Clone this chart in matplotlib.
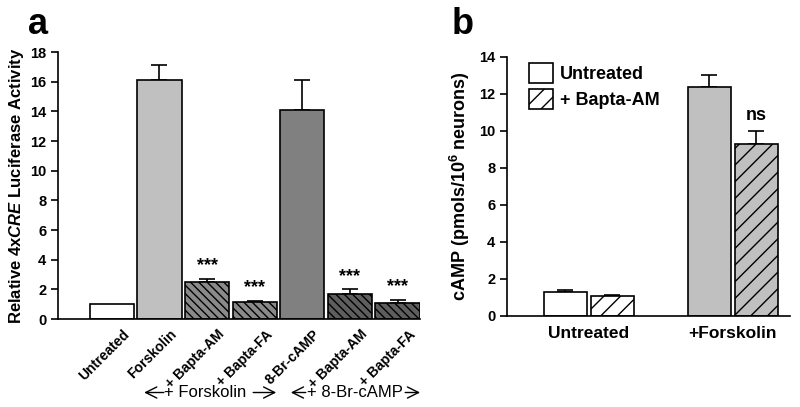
import numpy as np
import matplotlib.pyplot as plt
from matplotlib.patches import Patch

plt.rcParams['font.family'] = ['Liberation Sans', 'DejaVu Sans']
plt.rcParams['font.weight'] = 'bold'
plt.rcParams['axes.labelweight'] = 'bold'
plt.rcParams['hatch.linewidth'] = 1.0
plt.rcParams['mathtext.fontset'] = 'custom'
plt.rcParams['mathtext.it'] = 'Liberation Sans:italic:bold'
plt.rcParams['mathtext.rm'] = 'Liberation Sans:bold'

# panel a
a_labels = ['Untreated', 'Forskolin', '+ Bapta-AM', '+ Bapta-FA', '8-Br-cAMP', '+ Bapta-AM', '+ Bapta-FA']
a_values = [1.0, 16.1, 2.5, 1.15, 14.1, 1.7, 1.1]
a_errors = [0.0, 1.0, 0.2, 0.1, 2.0, 0.3, 0.2]
a_stars = ['', '', '***', '***', '', '***', '***']
a_colors = ['white', '#c0c0c0', '#8a8a8a', '#8a8a8a', '#808080', '#5e5e5e', '#5e5e5e']
a_hatch = [None, None, '\\\\\\\\', '\\\\\\\\', None, '\\\\\\\\', '\\\\\\\\']

# panel b
b_groups = ['Untreated', '+Forskolin']
b_untreated = [1.3, 12.35]
b_untreated_err = [0.1, 0.65]
b_bapta = [1.08, 9.3]
b_bapta_err = [0.05, 0.7]

fig = plt.figure(figsize=(8, 4.07), dpi=100)

ax = fig.add_axes([0.0725, 0.216, 0.4525, 0.656])
x = np.arange(len(a_values))
for i in range(len(x)):
    ax.bar(x[i], a_values[i], width=0.93, color=a_colors[i], edgecolor='black',
           linewidth=1.2, hatch=a_hatch[i], zorder=2)
    if a_errors[i] > 0:
        ax.errorbar(x[i], a_values[i], yerr=[[0], [a_errors[i]]], fmt='none',
                    ecolor='black', elinewidth=1.2, capsize=6, capthick=1.2, zorder=1)
    if a_stars[i]:
        ax.text(x[i], a_values[i] + a_errors[i] + 0.3, a_stars[i], ha='center', va='bottom',
                fontsize=13, fontweight='bold')
ax.set_xlim(-1.13, 6.47)
ax.set_ylim(0, 18)
ax.set_yticks(np.arange(0, 19, 2))
# labels sit a little right of the bar centres, as in the original
ax.set_xticks(x + 0.22)
ax.set_xticklabels(a_labels, rotation=45, ha='right', rotation_mode='anchor', fontsize=10,
                   fontweight='bold')
ax.set_yticklabels([str(v) for v in range(0, 19, 2)], fontsize=10.5, fontweight='bold')
ax.tick_params(axis='x', length=0, pad=6)
ax.tick_params(axis='y', width=1.2, length=5)
for s in ['top', 'right']:
    ax.spines[s].set_visible(False)
ax.spines['left'].set_linewidth(1.2)
ax.spines['bottom'].set_linewidth(1.2)
ax.set_ylabel(r'Relative 4x$\it{CRE}$ Luciferase Activity', fontsize=12, fontweight='bold', labelpad=3)

tr = ax.get_xaxis_transform()
y_grp = -0.275
for x0, x1, xt0, xt1, lab, xc in [(1.15, 0.62, 2.91, 3.51, '+ Forskolin', 1.95),
                                  (4.13, 3.70, 6.10, 6.53, '+ 8-Br-cAMP', 5.1)]:
    ax.annotate('', xy=(x1, y_grp), xytext=(x0, y_grp), xycoords=tr, textcoords=tr,
                arrowprops=dict(arrowstyle='->', lw=1.0, mutation_scale=20), annotation_clip=False)
    ax.annotate('', xy=(xt1, y_grp), xytext=(xt0, y_grp), xycoords=tr, textcoords=tr,
                arrowprops=dict(arrowstyle='->', lw=1.0, mutation_scale=20), annotation_clip=False)
    ax.text(xc, y_grp, lab, transform=tr, ha='center', va='center', fontsize=12,
            fontweight='normal')

fig.text(0.035, 0.94, 'a', fontsize=26, fontweight='bold', va='center')

# panel b
bx = fig.add_axes([0.634, 0.224, 0.354, 0.636])
xg = np.arange(len(b_groups))
off = 0.163
w = 0.30
bx.bar(xg - off, b_untreated, width=w, color=['white', '#c0c0c0'], edgecolor='black', linewidth=1.2, zorder=2)
bx.bar(xg + off, b_bapta, width=w, color=['white', '#c0c0c0'], edgecolor='black', linewidth=1.2,
       hatch='//', zorder=2)
bx.errorbar(xg - off, b_untreated, yerr=[np.zeros(2), b_untreated_err], fmt='none', ecolor='black',
            elinewidth=1.2, capsize=6, capthick=1.2, zorder=1)
bx.errorbar(xg + off, b_bapta, yerr=[np.zeros(2), b_bapta_err], fmt='none', ecolor='black',
            elinewidth=1.2, capsize=6, capthick=1.2, zorder=1)
bx.text(xg[1] + off, b_bapta[1] + b_bapta_err[1] + 0.4, 'ns', ha='center', va='bottom', fontsize=13,
        fontweight='bold')
bx.set_xlim(-0.566, 1.40)
bx.set_ylim(0, 14)
bx.set_yticks(np.arange(0, 15, 2))
bx.set_yticklabels([str(v) for v in range(0, 15, 2)], fontsize=10.5, fontweight='bold')
bx.set_xticks(xg)
bx.set_xticklabels(b_groups, fontsize=12.5, fontweight='bold')
bx.tick_params(axis='x', length=0, pad=7)
bx.tick_params(axis='y', width=1.2, length=5)
for s in ['top', 'right']:
    bx.spines[s].set_visible(False)
bx.spines['left'].set_linewidth(1.2)
bx.spines['bottom'].set_linewidth(1.2)
bx.set_ylabel(r'cAMP (pmols/10$^6$ neurons)', fontsize=13, fontweight='bold', labelpad=5)
handles = [Patch(facecolor='white', edgecolor='black', linewidth=1.2, label='Untreated'),
           Patch(facecolor='white', edgecolor='black', linewidth=1.2, hatch='//', label='+ Bapta-AM')]
bx.legend(handles=handles, loc='upper left', bbox_to_anchor=(0.02, 1.04), frameon=False,
          prop={'size': 13, 'weight': 'bold'},
          handlelength=1.3, handleheight=1.3, handletextpad=0.4, labelspacing=0.35)

fig.text(0.565, 0.94, 'b', fontsize=26, fontweight='bold', va='center')

fig.savefig('out.png', dpi=100)
